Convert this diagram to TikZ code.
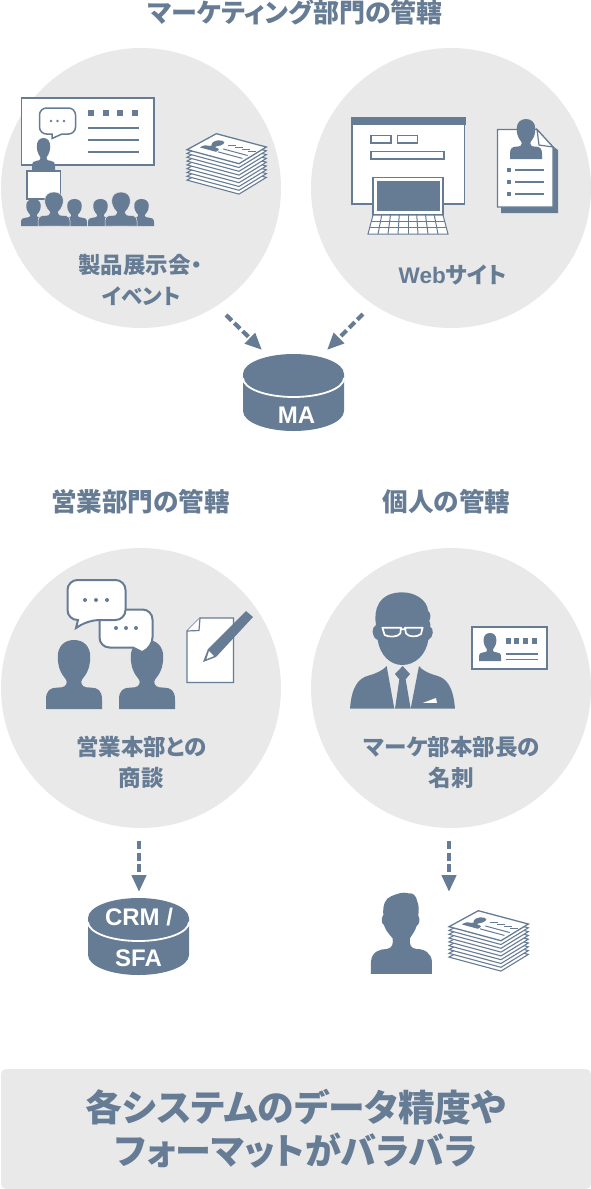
\documentclass[tikz,border=0pt]{standalone}
\usepackage{fontspec}
\setmainfont{Noto Sans CJK JP}[RawFeature=+palt]
\newfontfamily\lat{Liberation Sans}
\usetikzlibrary{arrows.meta}
\definecolor{ink}{HTML}{667C94}
\definecolor{bgc}{HTML}{E9E9E9}
\tikzset{
 disc/.style={circle,fill=bgc,minimum size=280pt,inner sep=0pt},
 head/.style={text=ink,font=\fontsize{25.6}{30}\selectfont\bfseries,inner sep=0pt},
 lab/.style={text=ink,font=\fontsize{22.5}{26}\selectfont\bfseries,inner sep=0pt},
 big/.style={text=ink,font=\fontsize{36}{42}\selectfont\bfseries,inner sep=0pt},
 dbtext/.style={text=white,font=\fontsize{24}{28}\selectfont\lat\bfseries,inner sep=0pt},
 darrow/.style={draw=ink,line width=4.2pt,dash pattern=on 8pt off 3.6pt,-{Triangle[width=14pt,length=17pt,fill=ink]}},
 wbox/.style={fill=white,draw=ink,line width=1.5pt},
 iline/.style={draw=ink,line width=1.5pt},
}
\newcommand\PersonV[1]{\fill[ink,#1] (0,1) -- (0,.86) .. controls (0,.73) and (.08,.69) .. (.2,.69) .. controls (.32,.69) and (.37,.67) .. (.37,.6) .. controls (.37,.55) and (.21,.5) .. (.21,.24) .. controls (.21,.09) and (.33,0) .. (.5,0) .. controls (.67,0) and (.79,.09) .. (.79,.24) .. controls (.79,.5) and (.63,.55) .. (.63,.6) .. controls (.63,.67) and (.68,.69) .. (.8,.69) .. controls (.92,.69) and (1,.73) .. (1,.86) -- (1,1) -- cycle;}
\newcommand\Person[4]{\PersonV{shift={(#1,#2)},x=#3pt,y=-#4pt}}
\newcommand\Cyl[2]{%
 \begin{scope}[shift={(#1,#2)}]
 \fill[ink] (0,20) arc[start angle=180,end angle=360,x radius=50.5,y radius=20] -- (101,57) arc[start angle=0,end angle=180,x radius=50.5,y radius=20] -- cycle;
 \draw[white,line width=1.8pt] (0,24) arc[start angle=180,end angle=0,x radius=50.5,y radius=19];
 \end{scope}}
\newcommand\Stack[2]{%
 \begin{scope}[shift={(#1,#2)}]
 \foreach \i in {8,7,...,1}{
  \filldraw[fill=white,draw=ink,line width=1.1pt,shift={(0,3.8*\i)}] (0,16.7) -- (29.3,.7) -- (79.3,14) -- (52,30.7) -- cycle;}
 \filldraw[fill=white,draw=ink,line width=1.3pt] (0,16.7) -- (29.3,.7) -- (79.3,14) -- (52,30.7) -- cycle;
 \PersonV{shift={(27,5.5)},x={(16pt,-4.3pt)},y={(-14pt,-9pt)}}
 \begin{scope}[shift={(0,16.7)},x={(52pt,-14pt)},y={(29.3pt,16pt)}]
  \foreach \u in {.45,.58,.71,.84}{\fill[ink] (\u,.6) rectangle (\u+.075,.74);}
  \draw[ink,line width=1pt] (.45,.44) -- (.92,.44) (.45,.26) -- (.92,.26);
 \end{scope}
 \end{scope}}
\begin{document}
\begin{tikzpicture}[x=1pt,y=-1pt]
\useasboundingbox (0,0) rectangle (591,1189);
% discs
\node[disc] (c1) at (141,188) {};
\node[disc] (c2) at (451,188) {};
\node[disc] (c3) at (141,688) {};
\node[disc] (c4) at (451,688) {};
% headings
\node[head,font=\fontsize{26}{30}\selectfont\bfseries] (h1) at (295.5,12.7) {マーケティング部門の管轄};
\node[head] (h2) at (140.5,502) {営業部門の管轄};
\node[head] (h3) at (446.5,502) {個人の管轄};
% labels
\node[lab] (l1a) at (140,265) {製品展示会・};
\node[lab,font=\fontsize{21.5}{26}\selectfont\bfseries] (l1b) at (141.5,296) {イベント};
\node[lab] (l2) at (452.5,275) {{\lat Web}サイト};
\node[lab] (l3a) at (141.5,747) {営業本部との};
\node[lab] (l3b) at (141,778) {商談};
\node[lab] (l4a) at (452,747) {マーケ部本部長の};
\node[lab] (l4b) at (451,778) {名刺};
% presentation icon
\draw[wbox] (21.5,98) rectangle (154,165);
\draw[ink,line width=1.5pt,fill=white,rounded corners=7pt] (39.5,108) -- (75.5,108) -- (75.5,134) [sharp corners] -- (62,134) -- (52,138.5) -- (52,134) [rounded corners=7pt] -- (39.5,134) -- cycle;
\foreach \x in {51,57.5,64}{\fill[ink] (\x,121) circle[radius=1.3];}
\foreach \x in {88,102.7,117.4,132}{\fill[ink] (\x,110) rectangle (\x+6,116);}
\foreach \y in {128,140,152}{\draw[iline] (88,\y) -- (138.5,\y);}
\Person{32}{138}{23}{33}
\draw[wbox] (27,171) rectangle (60.5,199);
\Person{21}{199}{25}{27}
\Person{62}{199}{25}{27}
\Person{88}{199}{25}{27}
\Person{129}{199}{25}{27}
\PersonV{shift={(38,192)},x=32pt,y=-34pt,draw=bgc,line width=.5pt}
\PersonV{shift={(105,192)},x=32pt,y=-34pt,draw=bgc,line width=.5pt}
\Stack{187}{133}
% web icon
\draw[wbox] (352,118) rectangle (464.5,204);
\fill[ink] (351,117) rectangle (465.5,125);
\draw[wbox] (371,135.5) rectangle (391,143);
\draw[wbox] (397.5,135.5) rectangle (417.5,143);
\draw[wbox] (371,151.5) rectangle (444,159);
\draw[wbox,draw=ink,line width=1.2pt] (373,177.5) rectangle (443,215);
\fill[ink] (376.5,181) rectangle (439.5,211);
\filldraw[fill=white,draw=ink,line width=1pt] (373,215) -- (443,215) -- (448,234) -- (368,234) -- cycle;
\draw[ink,line width=1pt] (371.3,221.3) -- (444.7,221.3) (369.7,227.6) -- (446.3,227.6);
\foreach \i in {1,...,7}{\draw[ink,line width=1pt] (373+8.75*\i,215) -- (368+10*\i,234);}
% resume icon
\fill[ink] (501,140) -- (537,135) -- (558,150) -- (558,213) -- (501,213) -- cycle;
\draw[wbox,line width=1.2pt] (497.5,129.5) -- (537,129.5) -- (553,147) -- (553,207) -- (497.5,207) -- cycle;
\draw[wbox,line width=1.2pt] (537,129.5) -- (539,145) -- (553,147) -- cycle;
\Person{510}{119}{32}{40}
\foreach \y in {170,182,194}{\fill[ink] (507,\y-1.7) rectangle (510.5,\y+1.7); \draw[iline] (515,\y) -- (544,\y);}
% MA
\Cyl{243}{354}
\node[dbtext] (ma) at (296.5,415) {MA};
\coordinate (a1s) at (226,315);
\coordinate (a1e) at (262,350);
\coordinate (a2s) at (363,314);
\coordinate (a2e) at (327,350);
\draw[darrow] (a1s) -- (a1e);
\draw[darrow] (a2s) -- (a2e);
% sales icon
\Person{46}{640}{56}{69}
\Person{119}{640}{56}{69}
\draw[ink,line width=2pt,fill=white,rounded corners=10pt] (99.5,609.5) -- (152.5,609.5) -- (152.5,647.5) [sharp corners] -- (142,652) -- (133,647.5) [rounded corners=10pt] -- (99.5,647.5) -- cycle;
\foreach \x in {116,126,136}{\fill[ink] (\x,628) circle[radius=2];}
\draw[ink,line width=2pt,fill=white,rounded corners=10pt] (67.5,580) -- (125.5,580) -- (125.5,620) -- (89,620) [sharp corners] -- (76,628) -- (78,620) [rounded corners=10pt] -- (67.5,620) -- cycle;
\foreach \x in {85,96,107}{\fill[ink] (\x,600) circle[radius=2];}
\draw[wbox,line width=1.2pt] (200,618) -- (233.5,618) -- (233.5,682.5) -- (187,682.5) -- (187,631) -- cycle;
\draw[wbox,line width=1.2pt] (200,618) -- (199,630.5) -- (187,631);
\fill[ink] (246,611) -- (253,617) -- (216,657) -- (203,662) -- (208,649) -- cycle;
\fill[white] (209,651) -- (214,656) -- (206.5,659) -- cycle;
% man icon
\begin{scope}[shift={(340,580)},x=.3333pt,y=-.3333pt]
\fill[ink] (187,37) .. controls (225,37) and (262,60) .. (264,92) .. controls (274,100) and (272,115) .. (268,122) .. controls (272,135) and (272,138) .. (270,140) .. controls (282,145) and (282,170) .. (265,180) .. controls (258,225) and (225,255) .. (187,255) .. controls (150,255) and (120,225) .. (113,180) .. controls (92,170) and (95,140) .. (108,135) .. controls (100,90) and (115,37) .. (187,37) -- cycle;
\draw[white,line width=1.7pt,line join=round] (127,143) -- (183,143) -- (181,160) .. controls (175,172) and (145,172) .. (134,165) -- cycle (195,143) -- (248,143) -- (243,162) .. controls (232,172) and (205,172) .. (198,160) -- cycle (183,148) -- (195,148);
\fill[ink] (30,386) .. controls (35,320) and (55,295) .. (85,287) .. controls (110,280) and (130,270) .. (140,258) -- (163,386) -- cycle;
\fill[ink] (345,386) .. controls (340,320) and (320,295) .. (290,287) .. controls (265,280) and (245,270) .. (237,258) -- (212,386) -- cycle;
\fill[ink] (188,258) -- (210,282) -- (197,298) -- (212,386) -- (165,386) -- (178,298) -- (165,282) -- cycle;
\fill[white] (248,369) -- (288,354) -- (291,369) -- cycle;
\end{scope}
% single card
\draw[wbox,line width=2pt] (472,626.5) rectangle (546.5,668.5);
\Person{479}{633}{22}{28}
\foreach \x in {505.7,514.4,523.3,532.3}{\fill[ink] (\x,638.3) rectangle (\x+5,643.5);}
\draw[iline] (505.7,654) -- (538,654) (505.7,659.3) -- (538,659.3);
% lower arrows and CRM
\coordinate (a3s) at (139,841);
\coordinate (a3e) at (139,892);
\coordinate (a4s) at (449,841);
\coordinate (a4e) at (449,892);
\draw[darrow] (a3s) -- (a3e);
\draw[darrow] (a4s) -- (a4e);
\Cyl{88}{898}
\node[dbtext] (crm) at (139,917) {CRM /};
\node[dbtext] (sfa) at (138.5,958) {SFA};
% lower person
\begin{scope}[shift={(70,830)},x=.3333pt,y=-.3333pt]
\fill[ink] (903,432) -- (903,395) .. controls (905,365) and (930,357) .. (950,357) .. controls (968,355) and (970,340) .. (968,325) .. controls (950,305) and (945,295) .. (942,285) .. controls (932,280) and (935,262) .. (940,255) .. controls (938,225) and (945,205) .. (965,198) .. controls (985,190) and (1000,185) .. (1015,190) .. controls (1025,187) and (1040,195) .. (1042,215) .. controls (1048,225) and (1046,245) .. (1045,258) .. controls (1052,265) and (1048,285) .. (1040,288) .. controls (1035,305) and (1025,315) .. (1020,325) .. controls (1018,345) and (1022,355) .. (1040,357) .. controls (1065,357) and (1084,370) .. (1086,395) -- (1086,432) -- cycle;
\end{scope}
\Stack{449}{910}
% bottom band
\fill[bgc,rounded corners=5pt] (1,1069) rectangle (591,1189);
\node[big,font=\fontsize{36.8}{42}\selectfont\bfseries] (b1) at (296,1107) {各システムのデータ精度や};
\node[big] (b2) at (296,1151) {フォーマットがバラバラ};
\end{tikzpicture}
\end{document}
